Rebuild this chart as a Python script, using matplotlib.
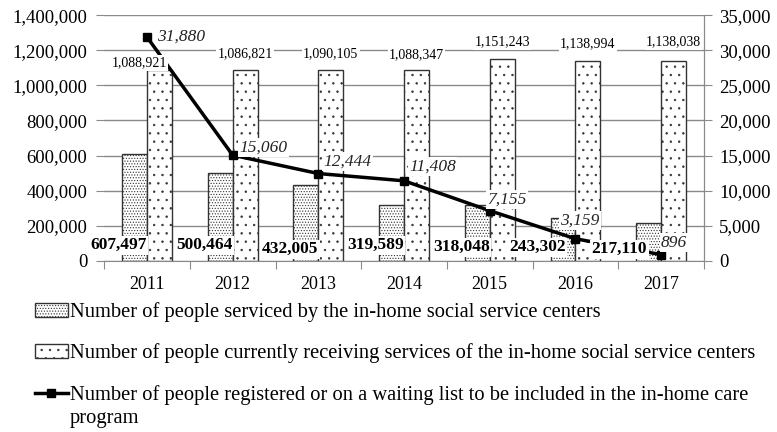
import matplotlib
matplotlib.use("Agg")
import matplotlib.pyplot as plt
import numpy as np
from matplotlib.ticker import FuncFormatter, MultipleLocator, FixedLocator

years = ["2011", "2012", "2013", "2014", "2015", "2016", "2017"]
serviced = [607497, 500464, 432005, 319589, 318048, 243302, 217110]
receiving = [1088921, 1086821, 1090105, 1088347, 1151243, 1138994, 1138038]
waiting = [31880, 15060, 12444, 11408, 7155, 3159, 896]

lab_serviced = "Number of people serviced by the in-home social service centers"
lab_receiving = "Number of people currently receiving services of the in-home social service centers"
lab_waiting = "Number of people registered or on a waiting list to be included in the in-home care"

plt.rcParams["font.family"] = ["Liberation Serif", "DejaVu Serif"]
plt.rcParams["hatch.linewidth"] = 0.5
plt.rcParams["hatch.color"] = "#444444"

grey = "#8a8a8a"
fig = plt.figure(figsize=(7.77, 4.32), dpi=100)
ax = fig.add_axes([0.134, 0.396, 0.772, 0.569])
ax2 = ax.twinx()

x = np.arange(len(years))
w = 0.29
b1 = ax.bar(x - w / 2, serviced, w, facecolor="white", edgecolor="#333333",
            hatch="......", linewidth=1, zorder=2)
b2 = ax.bar(x + w / 2, receiving, w, facecolor="white", edgecolor="#333333",
            hatch="..", linewidth=1, zorder=2)
ln, = ax2.plot(x, waiting, color="black", lw=2.5, marker="s", ms=6, zorder=3)

ax.set_xlim(-0.5, 6.5)
ax.set_ylim(0, 1400000)
ax2.set_ylim(0, 35000)
ax.yaxis.set_major_locator(MultipleLocator(200000))
ax2.yaxis.set_major_locator(MultipleLocator(5000))
fmt = FuncFormatter(lambda v, p: f"{int(v):,}")
ax.yaxis.set_major_formatter(fmt)
ax2.yaxis.set_major_formatter(fmt)
ax.grid(axis="y", color=grey, lw=1, zorder=0)
ax.set_axisbelow(True)

ax.xaxis.set_major_locator(FixedLocator(np.arange(-0.5, 7, 1)))
ax.xaxis.set_minor_locator(FixedLocator(x))
ax.set_xticklabels([], minor=False)
ax.set_xticklabels(years, minor=True)
ax.tick_params(axis="x", which="major", length=6, color=grey, direction="out")
ax.tick_params(axis="x", which="minor", length=0, labelsize=13, pad=11)
ax.tick_params(axis="y", length=6, color=grey, labelsize=13.5, pad=6)
ax2.tick_params(axis="y", length=6, color=grey, labelsize=13.5, pad=5)

for a in (ax, ax2):
    for s in ("top", "left"):
        a.spines[s].set_visible(False)
    a.spines["bottom"].set_color(grey)
    a.spines["right"].set_color(grey)
ax2.spines["bottom"].set_visible(False)

box = dict(facecolor="white", edgecolor="none", pad=1)

# bold labels for serviced bars, near the base
dx1 = [0, 0, 0, 0, 0, -10, -14]
dy1 = [0, 0, -4, 0, -2, -2, -4]
for i, v in enumerate(serviced):
    ax2.annotate(f"{v:,}", xy=(i, 90000), xycoords=ax.transData,
                 xytext=(dx1[i], dy1[i]), textcoords="offset pixels",
                 ha="right", va="center", fontsize=12.5, fontweight="bold",
                 bbox=box, zorder=5)

# labels above the dotted bars
dx2 = [-20, 0, 0, 0, 0, 0, 0]
dy2 = [7, 16, 16, 15, 17, 17, 19]
for i, v in enumerate(receiving):
    ax2.annotate(f"{v:,}", xy=(i + w / 2, v), xycoords=ax.transData,
                 xytext=(dx2[i], dy2[i]), textcoords="offset pixels",
                 ha="center", va="center", fontsize=10,
                 bbox=box, zorder=5)

# italic labels for the waiting-list line
dx3 = [10, 7, 5, 5, -2, -15, 0]
dy3 = [0, 8, 12, 14, 11, 18, 12]
for i, v in enumerate(waiting):
    ax2.annotate(f"{v:,}", xy=(i, v), xytext=(dx3[i], dy3[i]),
                 textcoords="offset pixels", ha="left", va="center",
                 fontsize=12.5, fontstyle="italic", color="#222222",
                 bbox=box, zorder=5)

leg = fig.legend([b1, b2, ln], [lab_serviced, lab_receiving, lab_waiting],
                 loc="upper left", bbox_to_anchor=(35 / 777, 1 - 302 / 432),
                 frameon=False, fontsize=14.8, handlelength=1.6,
                 handletextpad=0.1, labelspacing=1.05, borderpad=0,
                 borderaxespad=0)
fig.text(70 / 777, 1 - 419 / 432, "program", fontsize=14.8, va="center", ha="left")

fig.savefig("out.png", dpi=100)
